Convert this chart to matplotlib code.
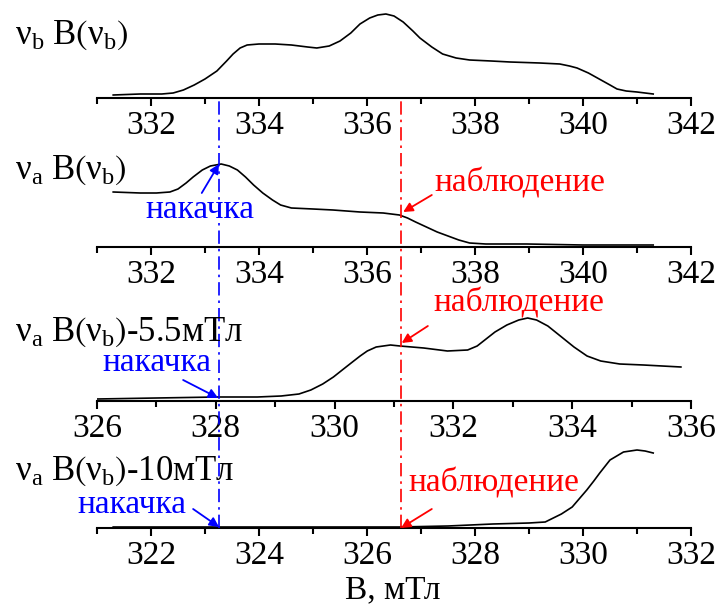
import matplotlib
matplotlib.use('Agg')
import matplotlib.pyplot as plt
from matplotlib.ticker import MultipleLocator

plt.rcParams['font.family'] = ['Liberation Serif', 'DejaVu Serif']
plt.rcParams['mathtext.fontset'] = 'custom'
plt.rcParams['mathtext.rm'] = 'Liberation Serif'
plt.rcParams['mathtext.it'] = 'Liberation Serif:italic'
plt.rcParams['mathtext.bf'] = 'Liberation Serif:bold'
plt.rcParams['mathtext.fallback'] = 'stix'

# spectra (field in mT, intensity in arb. units)
b_top = [331.3, 331.8, 332.2, 332.41, 332.6, 332.8, 333.0, 333.22, 333.4, 333.52, 333.65, 333.78,
         334.0, 334.3, 334.6, 334.9, 335.07, 335.3, 335.5, 335.7, 335.87, 336.05, 336.2, 336.35,
         336.5, 336.67, 336.85, 336.98, 337.2, 337.4, 337.65, 337.9, 338.3, 338.65, 339.2, 339.57,
         339.75, 339.89, 340.1, 340.3, 340.5, 340.63, 340.8, 341.0, 341.3]
i_top = [3, 4, 4, 5, 8, 13, 19, 27, 37, 44, 50, 53,
         54, 54, 53, 51, 50, 52, 57, 65, 74, 80, 83, 84,
         82, 76, 67, 60, 51, 44, 40, 38, 37, 36, 35, 34,
         32, 30, 25, 19, 13, 9, 7, 6, 4]

b_a = [331.3, 331.8, 332.1, 332.35, 332.5, 332.65, 332.78, 332.95, 333.1, 333.3, 333.45, 333.6,
       333.75, 333.9, 334.07, 334.25, 334.4, 334.6, 335.0, 335.37, 335.87, 336.3, 336.6, 336.75,
       336.9, 337.1, 337.3, 337.5, 337.7, 337.9, 338.2, 338.96, 340.0, 341.3]
i_a = [55, 54, 54, 55, 58, 64, 70, 77, 81, 83, 81, 77,
       70, 62, 54, 47, 42, 39, 38, 37, 35, 34, 32, 29,
       25, 20, 15, 11, 7, 4, 3, 3, 2, 2]

b_a55 = [326.0, 327.0, 328.02, 328.7, 329.1, 329.4, 329.6, 329.8, 329.98, 330.15, 330.3, 330.43,
         330.55, 330.7, 330.94, 331.1, 331.5, 331.9, 332.24, 332.4, 332.55, 332.7, 332.9, 333.1,
         333.25, 333.4, 333.59, 333.8, 334.03, 334.25, 334.48, 334.8, 335.2, 335.83]
i_a55 = [2, 3, 4, 4, 5, 7, 11, 17, 24, 32, 39, 45,
         50, 54, 56, 55, 53, 50, 51, 55, 62, 69, 76, 81,
         83, 81, 75, 65, 54, 45, 40, 37, 36, 34]

b_a10 = [321.3, 322.5, 323.5, 324.5, 325.5, 326.6, 327.5, 328.33, 329.0, 329.3, 329.45, 329.6,
         329.8, 330.07, 330.2, 330.31, 330.5, 330.75, 331.0, 331.15, 331.3]
i_a10 = [1, 1, 1, 1, 1, 1, 2, 4, 5, 6, 10, 14,
         21, 38, 47, 55, 68, 76, 78, 77, 75]

x_ranges = [(331, 342), (331, 342), (326, 336), (321, 332)]
labels = [r'$\mathrm{ν_b\ B}\left(\mathrm{ν_b}\right)$',
          r'$\mathrm{ν_a\ B}\left(\mathrm{ν_b}\right)$',
          r'$\mathrm{ν_a\ B}\left(\mathrm{ν_b}\right)$-5.5мТл',
          r'$\mathrm{ν_a\ B}\left(\mathrm{ν_b}\right)$-10мТл']

pump_field = 333.26  # in top-panel field units
probe_field = 336.63

W, H = 718, 607
fig = plt.figure(figsize=(W / 100, H / 100), dpi=100)


def px_axes(left, bottom, right, top):
    return fig.add_axes([left / W, 1 - bottom / H, (right - left) / W, (bottom - top) / H])


def style(ax, xr):
    ax.set_xlim(*xr)
    ax.set_ylim(0, 92)
    for s in ['top', 'left', 'right']:
        ax.spines[s].set_visible(False)
    ax.spines['bottom'].set_linewidth(1.5)
    ax.patch.set_visible(False)
    ax.set_yticks([])
    ax.xaxis.set_major_locator(MultipleLocator(2))
    ax.xaxis.set_minor_locator(MultipleLocator(1))
    ax.tick_params(axis='x', which='major', length=6, width=1.5, labelsize=24, pad=3)
    ax.tick_params(axis='x', which='minor', length=4, width=1.5)


axis_rows = [98, 247, 401, 528]
data = [(b_top, i_top), (b_a, i_a), (b_a55, i_a55), (b_a10, i_a10)]
axes = []
for row, xr, (b, i) in zip(axis_rows, x_ranges, data):
    ax = px_axes(97, row, 691, row - 92)
    style(ax, xr)
    ax.plot(b, i, color='black', lw=1.2)
    axes.append(ax)

label_y = [35, 170, 332, 471]
for y, lab in zip(label_y, labels):
    fig.text(15 / W, 1 - y / H, lab, fontsize=25, ha='left', va='center')

fig.text(393 / W, 1 - 590 / H, 'B, мТл', fontsize=24, ha='center', va='center')

# annotations: (text pos, arrow tail, arrow head) in each panel's data coords
notes = [
    (1, 'накачка', 'blue', (332.91, 37), (332.94, 54), (333.26, 83)),
    (1, 'наблюдение', 'red', (338.83, 64), (337.2, 52), (336.67, 35)),
    (2, 'накачка', 'blue', (327.01, 38), (327.45, 21), (328.04, 3)),
    (2, 'наблюдение', 'red', (333.1, 98), (331.57, 75), (331.13, 58)),
    (3, 'накачка', 'blue', (321.65, 23), (322.78, 19), (323.26, 1)),
    (3, 'наблюдение', 'red', (328.35, 45), (327.2, 19), (326.63, 0)),
]
for k, txt, col, tpos, tail, head in notes:
    ax = axes[k]
    ax.text(tpos[0], tpos[1], txt, color=col, fontsize=24, ha='center', va='center', clip_on=False)
    ax.annotate('', xy=head, xytext=tail, annotation_clip=False,
                arrowprops=dict(arrowstyle='-|>', color=col, lw=1.3, mutation_scale=14,
                                shrinkA=0, shrinkB=0))

# vertical marker lines across all panels
over = px_axes(97, 528, 691, 98)
over.set_xlim(*x_ranges[0])
over.set_ylim(0, 1)
over.axis('off')
over.axvline(pump_field, color='blue', lw=1.2, ls=(0, (8, 3, 1.5, 3)))
over.axvline(probe_field, color='red', lw=1.2, ls=(0, (8, 3, 1.5, 3)))

fig.savefig('out.png', dpi=100)
